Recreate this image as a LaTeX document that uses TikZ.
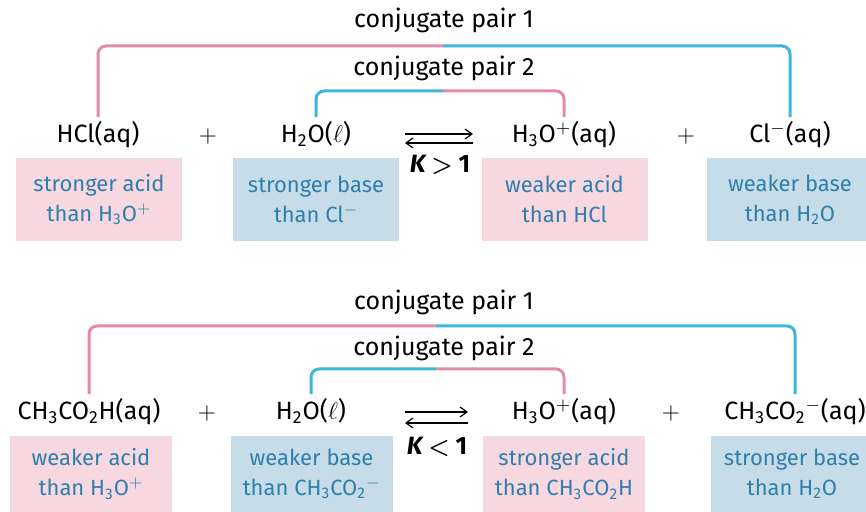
\documentclass[tikz,border=0pt]{standalone}
\usepackage{fontspec}
\setmainfont{Fira Sans}
\usetikzlibrary{arrows.meta}

\definecolor{pairpink}{HTML}{E48AA9}
\definecolor{pairblue}{HTML}{3DB6DA}
\definecolor{acidfill}{HTML}{F7D7E0}
\definecolor{basefill}{HTML}{C6DCE8}
\definecolor{labeltext}{HTML}{2F7FAA}

\newcommand{\chsub}[1]{\textsubscript{#1}}
\newcommand{\chsup}[1]{$^{#1}$}

\tikzset{
  species/.style={font=\fontsize{12.5}{15}\selectfont, inner xsep=1pt, inner ysep=4.5pt, text height=8pt, text depth=2.5pt},
  pairlabel/.style={font=\fontsize{12.5}{15}\selectfont},
  acidbox/.style={fill=acidfill, text=labeltext, align=center, inner sep=0pt,
    font=\fontsize{11}{15}\selectfont, minimum width=83pt, minimum height=41.5pt},
  basebox/.style={acidbox, fill=basefill},
  pinkpair/.style={pairpink, line width=1.5pt, rounded corners=4pt},
  bluepair/.style={pairblue, line width=1.5pt, rounded corners=4pt},
  eqarrow/.style={line width=0.6pt, -{Straight Barb[length=3.5pt,width=5pt]}},
  kvalue/.style={font=\fontsize{12.5}{15}\selectfont\bfseries\boldmath}
}

\begin{document}
\begin{tikzpicture}[x=0.5pt,y=-0.5pt]
		\useasboundingbox (0,0) rectangle (866,512);
		
		% Reaction 1: HCl + water
		\node[pairlabel] (pairA1) at (444,20) {conjugate pair 1};
		\node[pairlabel] (pairA2) at (444,68) {conjugate pair 2};
		
		\node[species] (hcl) at (98,137) {HCl(aq)};
		\node[species] (plusA1) at (208,137) {$+$};
		\node[species] (waterA) at (316,137) {H\chsub{2}O($\ell$)};
		\node[species] (hydA) at (564,137) {H\chsub{3}O\chsup{+}(aq)};
		\node[species] (plusA2) at (686,137) {$+$};
		\node[species] (chloride) at (790,137) {Cl\chsup{-}(aq)};
		
		% Brackets (pink half = acid side, blue half = base side)
		\coordinate (midA1) at (443,46);
		\coordinate (midA2) at (443,91);
		\draw[pinkpair] (hcl.north) |- (midA1);
		\draw[bluepair] (midA1) -| (chloride.north);
		\draw[bluepair] (waterA.north) |- (midA2);
		\draw[pinkpair] (midA2) -| (hydA.north);
		
		% Equilibrium arrows
		\coordinate (fwdA1) at (405,134);
		\coordinate (fwdA2) at (473,134);
		\coordinate (bckA1) at (473,143);
		\coordinate (bckA2) at (405,143);
		\draw[eqarrow] (fwdA1) -- (fwdA2);
		\draw[eqarrow] (bckA1) -- (bckA2);
		\node[kvalue] (kA) at (440,165) {\itshape K\upshape\ $>$ 1};
		
		% Labels under the species
		\node[acidbox] (acidA1) at (99,199.5) {stronger acid\\than H\chsub{3}O\chsup{+}};
		\node[basebox] (baseA1) at (316,199.5) {stronger base\\than Cl\chsup{-}};
		\node[acidbox] (acidA2) at (564.5,199.5) {weaker acid\\than HCl};
		\node[basebox] (baseA2) at (790,199.5) {weaker base\\than H\chsub{2}O};
		
		% Reaction 2: acetic acid + water
		\node[pairlabel] (pairB1) at (444,302) {conjugate pair 1};
		\node[pairlabel] (pairB2) at (444,348) {conjugate pair 2};
		
		\node[species] (acetic) at (89,414) {CH\chsub{3}CO\chsub{2}H(aq)};
		\node[species] (plusB1) at (207,414) {$+$};
		\node[species] (waterB) at (311,414) {H\chsub{2}O($\ell$)};
		\node[species] (hydB) at (564,414) {H\chsub{3}O\chsup{+}(aq)};
		\node[species] (plusB2) at (671,414) {$+$};
		\node[species] (acetate) at (795,414) {CH\chsub{3}CO\chsub{2}\chsup{-}(aq)};
		
		\coordinate (midB1) at (436,326);
		\coordinate (midB2) at (436,369);
		\draw[pinkpair] (acetic.north) |- (midB1);
		\draw[bluepair] (midB1) -| (acetate.north);
		\draw[bluepair] (waterB.north) |- (midB2);
		\draw[pinkpair] (midB2) -| (hydB.north);
		
		\coordinate (fwdB1) at (405,412);
		\coordinate (fwdB2) at (468,412);
		\coordinate (bckB1) at (468,423);
		\coordinate (bckB2) at (405,423);
		\draw[eqarrow] (fwdB1) -- (fwdB2);
		\draw[eqarrow] (bckB1) -- (bckB2);
		\node[kvalue] (kB) at (437,447) {\itshape K\upshape\ $<$ 1};
		
		\node[acidbox, minimum width=81pt, minimum height=38pt] (acidB1) at (91,474) {weaker acid\\than H\chsub{3}O\chsup{+}};
		\node[basebox, minimum width=81pt, minimum height=38pt] (baseB1) at (311.5,474) {weaker base\\than CH\chsub{3}CO\chsub{2}\chsup{-}};
		\node[acidbox, minimum width=81pt, minimum height=38pt] (acidB2) at (564,474) {stronger acid\\than CH\chsub{3}CO\chsub{2}H};
		\node[basebox, minimum width=81pt, minimum height=38pt] (baseB2) at (792,474) {stronger base\\than H\chsub{2}O};
		
	\end{tikzpicture}
\end{document}
